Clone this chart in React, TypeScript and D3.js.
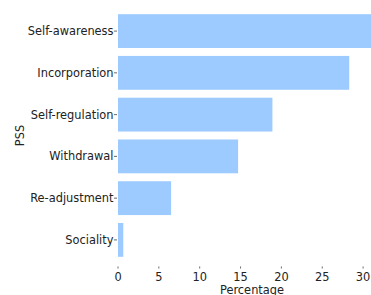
import React from 'react'
import { scaleLinear, scaleBand } from 'd3'

const categories = ['Self-awareness', 'Incorporation', 'Self-regulation', 'Withdrawal', 'Re-adjustment', 'Sociality']
const percentages = [31.2, 28.3, 18.9, 14.7, 6.5, 0.65]
const xTicks = [0, 5, 10, 15, 20, 25, 30]

const App = () => {
  const width = 371
  const height = 295
  const left = 118

  const xScale = scaleLinear()
    .domain([0, 31])
    .range([left, left + 31 * 8.17])

  const yScale = scaleBand()
    .domain(categories)
    .range([10, 261])
    .paddingInner(0.19)
    .paddingOuter(0.1)

  const font = 'DejaVu Sans, sans-serif'
  const textColor = '#222'
  const fs = 11.4

  return (
    <svg width={width} height={height} style={{ position: 'absolute', left: 0, top: 0, background: '#fff' }} fontFamily={font}>
      {categories.map((c, i) => (
        <rect
          key={c}
          x={xScale(0)}
          y={yScale(c)}
          width={xScale(percentages[i]) - xScale(0)}
          height={yScale.bandwidth()}
          fill='#9ecbff'
        />
      ))}

      {categories.map(c => {
        const y = (yScale(c) as number) + yScale.bandwidth() / 2
        return (
          <g key={c} transform={`translate(0,${y})`}>
            <line x1={114} x2={117} stroke='#444' strokeWidth={0.8} />
            <text x={113.5} dy='0.35em' textAnchor='end' fontSize={fs} fill={textColor}>{c}</text>
          </g>
        )
      })}

      {xTicks.map(t => (
        <g key={t} transform={`translate(${xScale(t)},0)`}>
          <line y1={266.5} y2={268.5} stroke='#444' strokeWidth={0.8} />
          <text y={280.5} textAnchor='middle' fontSize={fs} fill={textColor}>{t}</text>
        </g>
      ))}

      <text x={252} y={294} textAnchor='middle' fontSize={fs} fill={textColor}>Percentage</text>
      <text transform='translate(24,135.5) rotate(-90)' textAnchor='middle' fontSize={fs} fill={textColor}>PSS</text>
    </svg>
  )
}

export default App
